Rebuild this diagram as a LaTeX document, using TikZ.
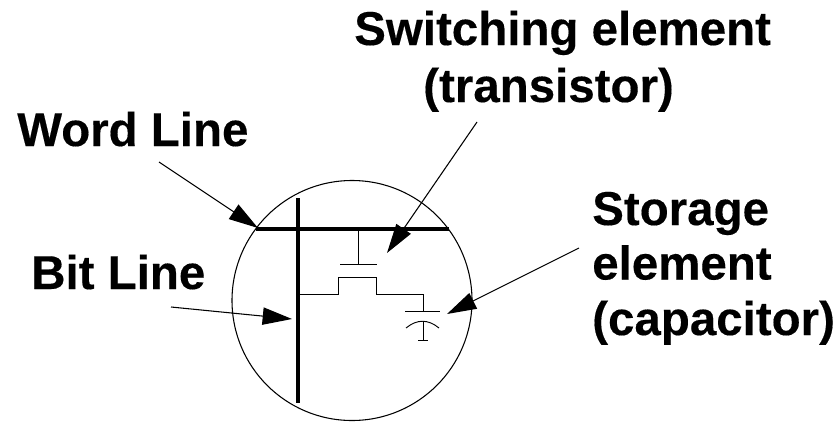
\documentclass[tikz,border=0pt]{standalone}
\usepackage{fontspec}
\setmainfont[BoldFeatures={FakeBold=0.3}]{Liberation Sans}
\usetikzlibrary{arrows.meta,
positioning,
calc}

\begin{document}
\begin{tikzpicture}[
				x=0.75pt,
				y=-0.75pt,
				callout/.style={
					anchor=base west,
					inner sep=0pt,
					font=\fontsize{35.6pt}{42pt}\selectfont\bfseries
				},
				pointer/.style={
					-{Triangle[length=22pt,width=13pt]},
					line width=0.8pt
				},
				busline/.style={
					line width=2.6pt
				},
				wire/.style={
					line width=0.7pt
				}
				]
				\useasboundingbox (0,0) rectangle (838,421);
				\node[draw, circle, inner sep=0pt, minimum size=180pt, line width=0.8pt] (cell) at (352,300.5) {};
				
				\node[callout] (word) at (17,146) {Word Line};
				\node[callout] (bit) at (31,289) {Bit Line};
				\node[callout] (switching) at (354,45) {Switching element};
				\node[callout] (transistor) at (423,102) {(transistor)};
				\node[callout] (storage) at (592,225) {Storage};
				\node[callout] (element) at (592,279.5) {element};
				\node[callout] (capacitor) at (592,335) {(capacitor)};
				
				\coordinate (wordl) at (256,229);
				\coordinate (wordr) at (449,229);
				\coordinate (bitt) at (298,198);
				\coordinate (bitb) at (298,403);
				\draw[busline] (wordl) -- (wordr);
				\draw[busline] (bitt) -- (bitb);
				
				% transistor
				\coordinate (gate) at (358,229);
				\coordinate (gatel) at (340,264);
				\coordinate (gater) at (377,264);
				\draw[wire] (gate) -- (gate |- gatel);
				\draw[wire] (gatel) -- (gater);
				\coordinate (drain) at (298,294);
				\coordinate (capwire) at (423,294.5);
				\draw[wire] (drain) -- (338,294) -- (338,277) -- (376,277) -- (376,294.5) -- (capwire) -- (423,311);
				
				% capacitor
				\coordinate (platel) at (405,311);
				\coordinate (plater) at (440,311);
				\coordinate (arcl) at (406,328);
				\coordinate (arcr) at (439,328);
				\coordinate (foot) at (423,340);
				\draw[wire] (platel) -- (plater);
				\draw[wire] (arcl) .. controls (417,319) and (428,319) .. (arcr);
				\draw[wire] (423,321.5) -- (foot);
				\draw[wire] (418,340) -- (428,340);
				
				% callout arrows
				\coordinate (wordtail) at (159,162);
				\coordinate (bittail) at (171,307);
				\coordinate (switchtail) at (477,122);
				\coordinate (storetail) at (579,248);
				\coordinate (wordtip) at (258,228);
				\coordinate (bittip) at (292,319);
				\coordinate (switchtip) at (387,253);
				\coordinate (storetip) at (447,314);
				\draw[pointer] (wordtail) -- (wordtip);
				\draw[pointer] (bittail) -- (bittip);
				\draw[pointer] (switchtail) -- (switchtip);
				\draw[pointer] (storetail) -- (storetip);
			\end{tikzpicture}
\end{document}
